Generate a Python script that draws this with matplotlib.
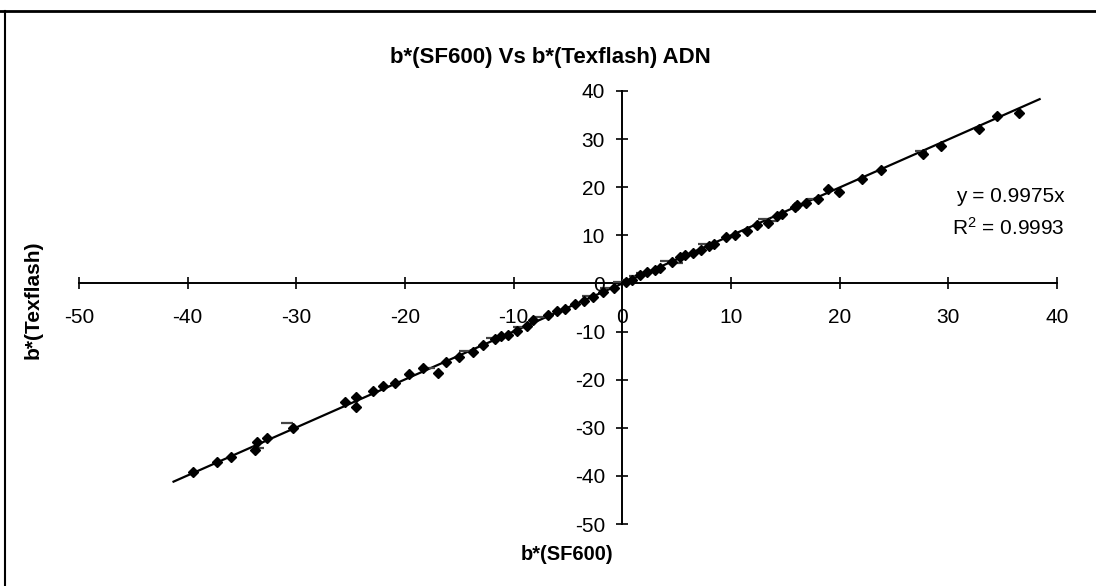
import numpy as np
import matplotlib.pyplot as plt
from matplotlib.lines import Line2D

plt.rcParams['font.family'] = ['Liberation Sans', 'DejaVu Sans']
plt.rcParams['axes.unicode_minus'] = False

# b*(SF600) vs b*(Texflash), main series (diamonds)
sf600 = [-39.5, -37.3, -36.0, -33.8, -33.6, -32.7, -30.3, -25.5, -24.5, -24.5,
         -22.9, -22.0, -20.9, -19.6, -18.3, -17.0, -16.2, -15.0, -13.7, -12.8,
         -11.7, -11.2, -10.5, -9.7, -8.8, -8.2, -6.8, -6.0, -5.3, -4.4,
         -3.5, -2.7, -1.8, -0.8, 0.3, 0.9, 1.6, 2.3, 3.0, 3.5,
         4.6, 5.3, 5.8, 6.5, 7.2, 8.0, 8.4, 9.5, 10.4, 11.5,
         12.4, 13.4, 14.2, 14.7, 15.9, 16.1, 16.9, 18.0, 18.9, 19.9,
         22.1, 23.8, 27.7, 29.3, 32.8, 34.5, 36.5]
texflash = [-39.2, -37.1, -36.0, -34.6, -33.0, -32.2, -30.1, -24.6, -23.7, -25.6,
            -22.3, -21.4, -20.6, -18.9, -17.6, -18.6, -16.3, -15.2, -14.3, -12.7,
            -11.5, -11.0, -10.8, -9.9, -8.9, -7.6, -6.5, -5.8, -5.4, -4.3,
            -3.7, -2.9, -1.8, -0.9, 0.2, 0.8, 1.7, 2.4, 2.8, 3.3,
            4.5, 5.4, 6.0, 6.3, 7.0, 7.7, 8.1, 9.6, 10.0, 10.9,
            12.1, 12.6, 14.0, 14.4, 15.9, 16.3, 16.7, 17.6, 19.6, 19.1,
            21.7, 23.5, 26.9, 28.6, 32.2, 34.9, 35.5]

# second series (dash markers)
sf600_b = [-33.5, -30.9, -17.8, -14.5, -12.0, -9.5, -7.5, -3.2, -1.5, -0.3,
           0.5, 1.2, 1.8, 4.0, 5.0, 7.5, 13.0, 13.8, 17.5, 27.5]
texflash_b = [-34.2, -29.1, -17.5, -14.0, -11.4, -9.1, -7.0, -2.6, -1.0, 0.2,
              0.8, 1.5, 2.2, 4.6, 4.2, 8.2, 13.4, 13.0, 17.6, 27.6]

# linear trend through origin
slope = 0.9975
r2 = 0.9993
trend_x = np.array([-41.3, 38.4])

xticks = [-50, -40, -30, -20, -10, 0, 10, 20, 30, 40]
yticks = [-50, -40, -30, -20, -10, 0, 10, 20, 30, 40]

fig = plt.figure(figsize=(10.96, 5.86), dpi=100)
ax = fig.add_axes([79/1096, 1-524/586, (1057-79)/1096, (524-91)/586])

ax.plot(trend_x, slope*trend_x, 'k-', lw=1.6, zorder=2)
ax.plot(sf600_b, texflash_b, ls='none', marker='_', ms=8, mew=1.6,
        color='#444444', zorder=3)
ax.plot(sf600, texflash, ls='none', marker='D', ms=5.5, color='black', zorder=4)

ax.set_xlim(-50, 40)
ax.set_ylim(-50, 40)
ax.spines['left'].set_position(('data', 0))
ax.spines['bottom'].set_position(('data', 0))
ax.spines['top'].set_visible(False)
ax.spines['right'].set_visible(False)
ax.spines['left'].set_linewidth(1.4)
ax.spines['bottom'].set_linewidth(1.4)
ax.set_xticks(xticks)
ax.set_yticks(yticks)
ax.tick_params(axis='x', direction='inout', length=9, width=1.2,
               labelsize=15, pad=13)
ax.tick_params(axis='y', direction='inout', length=9, width=1.2,
               labelsize=15, pad=8)
ax.patch.set_alpha(0)

fig.text(550/1096, 1-58/586, 'b*(SF600) Vs b*(Texflash) ADN',
         ha='center', va='center', fontsize=16, fontweight='bold')
fig.text(567/1096, 1-555/586, 'b*(SF600)', ha='center', va='center',
         fontsize=14.5, fontweight='bold')
fig.text(33/1096, 1-300/586, 'b*(Texflash)', ha='center', va='center',
         rotation=90, fontsize=15, fontweight='bold')
fig.text(1065/1096, 1-197/586, 'y = {:.4f}x'.format(slope), ha='right',
         va='center', fontsize=15)
fig.text(1065/1096, 1-228/586, '$\\mathregular{R^2}$ = ' + '{:.4f}'.format(r2),
         ha='right', va='center', fontsize=15)

# page border from the scan
fig.add_artist(Line2D([0, 1], [1-11/586, 1-11/586], color='black', lw=2))
fig.add_artist(Line2D([5/1096, 5/1096], [0, 1-11/586], color='black', lw=1.5))

fig.savefig('out.png', dpi=100)
